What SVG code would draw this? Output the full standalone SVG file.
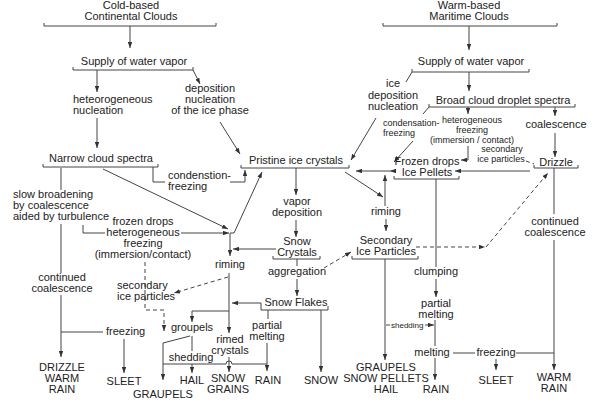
<svg xmlns="http://www.w3.org/2000/svg" width="596" height="412" viewBox="0 0 596 412">
<defs>
<marker id="ah" viewBox="0 0 8 6" refX="8" refY="3" markerWidth="6" markerHeight="4.5" orient="auto" markerUnits="userSpaceOnUse"><path d="M0,0 L8,3 L0,6 z" fill="#333"/></marker>
</defs>
<style>
text{font-family:"Liberation Sans",Arial,sans-serif;font-size:11px;fill:#222}
.m{text-anchor:middle}
.s9{font-size:9px}
.s8{font-size:8px}
.br,.c{fill:none;stroke:#444;stroke-width:1}
.a{marker-end:url(#ah)}
.d{stroke-dasharray:4 3}
</style>
<rect width="596" height="412" fill="#fff"/>

<g id="connectors">
<path class="c a" d="M130,26 V48"/>
<path class="c a" d="M97,70 V92"/>
<path class="c a" d="M193,70 L200,84"/>
<path class="c a" d="M97,118 V148"/>
<path class="c a" d="M220,122 L240,154"/>
<path class="c" d="M153,167 V182 H165"/>
<path class="c a" d="M230,182 H245 V170"/>
<path class="c" d="M61,168 V190"/>
<path class="c" d="M61,224 V273"/>
<path class="c a" d="M61,295 V357"/>
<path class="c" d="M61,332 H103"/>
<path class="c a" d="M124,339 V373"/>
<path class="c a" d="M103,169 L228,229"/>
<path class="c" d="M83,225 V233 H105"/>
<path class="c a" d="M181,233 H229"/>
<path class="c a" d="M230,233 H234 L262,172"/>
<path class="c a" d="M230,233 V256"/>
<path class="c a" d="M276,249 H233"/>
<path class="c a" d="M229,273 V333"/>
<path class="c a" d="M229,357 V372"/>
<path class="c a" d="M229,311 H192 V322"/>
<path class="c a" d="M261,303 H232"/>
<path class="c d a" d="M228,277 L174,293"/>
<path class="c d a" d="M145,262 V310 H164 V331"/>
<path class="c a" d="M190,336 L163,343 V380"/>
<path class="c" d="M192,336 V351"/>
<path class="c a" d="M192,364 V373"/>
<path class="c" d="M163,364 H226 A3,3 0 0 1 232,364 H267"/>
<path class="c" d="M268,310 V319"/>
<path class="c a" d="M267,343 V371"/>
<path class="c a" d="M321,310 V372"/>
<path class="c a" d="M296,168 V195"/>
<path class="c a" d="M296,220 V237"/>
<path class="c" d="M297,259 V266"/>
<path class="c a" d="M297,279 V296"/>
<path class="c d a" d="M324,268 L351,252"/>

<path class="c a" d="M469,26 V50"/>
<path class="c a" d="M469,72 V91"/>
<path class="c" d="M412,72 L406,82"/>
<path class="c a" d="M376,118 L351,160"/>
<path class="c" d="M429,107 L423,114"/>
<path class="c a" d="M413,141 L394,162"/>
<path class="c a" d="M468,107 V114"/>
<path class="c a" d="M468,146 V160 H461"/>
<path class="c a" d="M555,107 V116"/>
<path class="c a" d="M555,133 V157"/>
<path class="c d" d="M526,161 L534,164"/>
<path class="c a" d="M530,171 H455"/>
<path class="c a" d="M394,171 H390"/>
<path class="c a" d="M390,171 H356"/>
<path class="c a" d="M385,206 V175"/>
<path class="c a" d="M345,172 L383,197"/>
<path class="c a" d="M386,219 V231"/>
<path class="c d a" d="M416,247 H485"/>
<path class="c d a" d="M486,247 L548,173"/>
<path class="c a" d="M385,259 V360"/>
<path class="c" d="M386,325 H390"/>
<path class="c a" d="M425,325 H434"/>
<path class="c" d="M436,179 V267"/>
<path class="c a" d="M436,279 V297"/>
<path class="c" d="M435,320 V346"/>
<path class="c a" d="M435,358 V380"/>
<path class="c" d="M453,353 H475"/>
<path class="c" d="M516,353 H554"/>
<path class="c a" d="M496,359 V370"/>
<path class="c" d="M554,168 V214"/>
<path class="c a" d="M554,240 V370"/>
</g>

<g id="cold-clouds"><text class="m" x="131" y="9">Cold-based</text><text class="m" x="131" y="20">Continental Clouds</text><path class="br" d="M44,23 V26 H216 V23"/></g>
<g id="supply-left"><text class="m" x="134" y="65">Supply of water vapor</text><path class="br" d="M73,67 V70 H193 V67"/></g>
<g id="het-nucleation"><text x="73" y="103">heteorogeneous</text><text x="73" y="114">nucleation</text></g>
<g id="dep-nucleation"><text class="m" x="210" y="92">deposition</text><text class="m" x="210" y="103">nucleation</text><text class="m" x="210" y="114">of the ice phase</text></g>
<g id="narrow"><text class="m" x="101" y="162">Narrow cloud spectra</text><path class="br" d="M43,164 V167 H158 V164"/></g>
<g id="condenstion"><text x="168" y="179">condenstion-</text><text x="168" y="190">freezing</text></g>
<g id="pristine"><text class="m" x="296" y="164">Pristine ice crystals</text><path class="br" d="M241,165 V168 H349 V165"/></g>
<g id="slow-broadening"><text x="13" y="198">slow broadening</text><text x="13" y="209">by coalescence</text><text x="13" y="220">aided by turbulence</text></g>
<g id="frozen-drops-left"><text class="m" x="143" y="225">frozen drops</text><text class="m" x="143" y="236">heterogeneous</text><text class="m" x="143" y="247">freezing</text><text class="m" x="143" y="258">(immersion/contact)</text></g>
<g id="continued-left"><text class="m" x="62" y="281">continued</text><text class="m" x="62" y="292">coalescence</text></g>
<g id="freezing-left"><text x="106" y="335">freezing</text></g>
<g id="drizzle-warm-rain"><text class="m" x="62" y="371">DRIZZLE</text><text class="m" x="62" y="382">WARM</text><text class="m" x="62" y="393">RAIN</text></g>
<g id="sleet-left"><text class="m" x="124" y="385">SLEET</text></g>
<g id="vapor-deposition"><text class="m" x="297" y="205">vapor</text><text class="m" x="297" y="216">deposition</text></g>
<g id="snow-crystals"><text class="m" x="297" y="245">Snow</text><text class="m" x="297" y="256">Crystals</text><path class="br" d="M273,256 V259 H320 V256"/></g>
<g id="riming-left"><text class="m" x="230" y="268">riming</text></g>
<g id="aggregation"><text class="m" x="297" y="275">aggregation</text></g>
<g id="secondary-left"><text x="117" y="289">secondary</text><text x="117" y="300">ice particles</text></g>
<g id="snow-flakes"><text class="m" x="296" y="306">Snow Flakes</text><path class="br" d="M261,303 V310 H328 V306"/></g>
<g id="groupels"><text class="m" x="192" y="331">groupels</text></g>
<g id="rimed-crystals"><text class="m" x="230" y="343">rimed</text><text class="m" x="230" y="354">crystals</text></g>
<g id="partial-melting-left"><text class="m" x="267" y="329">partial</text><text class="m" x="267" y="340">melting</text></g>
<g id="shedding-left"><text class="m" x="191" y="361">shedding</text></g>
<g id="graupels-left"><text class="m" x="163" y="398">GRAUPELS</text></g>
<g id="hail-left"><text class="m" x="192" y="384">HAIL</text></g>
<g id="snow-grains"><text class="m" x="228" y="382">SNOW</text><text class="m" x="228" y="393">GRAINS</text></g>
<g id="rain-left"><text class="m" x="268" y="384">RAIN</text></g>
<g id="snow"><text class="m" x="321" y="384">SNOW</text></g>

<g id="warm-clouds"><text class="m" x="469" y="9">Warm-based</text><text class="m" x="469" y="20">Maritime Clouds</text><path class="br" d="M383,23 V26 H557 V23"/></g>
<g id="supply-right"><text class="m" x="471" y="65">Supply of water vapor</text><path class="br" d="M412,69 V72 H529 V69"/></g>
<g id="ice-dep-nucleation"><text class="m" x="393" y="87">ice</text><text class="m" x="393" y="99">deposition</text><text class="m" x="393" y="110">nucleation</text></g>
<g id="broad"><text class="m" x="503" y="104">Broad cloud droplet spectra</text><path class="br" d="M429,104 V107 H575 V104"/></g>
<g id="condensation-right"><text class="s9" x="383" y="126">condensation-</text><text class="s9" x="383" y="136">freezing</text></g>
<g id="het-freezing-right"><text class="m s9" x="472" y="123">heterogeneous</text><text class="m s9" x="472" y="133">freezing</text><text class="m s9" x="472" y="143">(immersion / contact)</text></g>
<g id="coalescence-right"><text class="m" x="556" y="128">coalescence</text></g>
<g id="secondary-right"><text class="m s9" x="502" y="152">secondary</text><text class="m s9" x="501" y="162">ice particles</text></g>
<g id="drizzle"><text class="m" x="556" y="166">Drizzle</text><path class="br" d="M534,165 V168 H578 V165"/></g>
<g id="frozen-drops-right"><text class="m" x="427" y="165">Frozen drops</text><text class="m" x="427" y="176">Ice Pellets</text><path class="br" d="M394,176 V179 H459 V176"/></g>
<g id="riming-right"><text class="m" x="386" y="215">riming</text></g>
<g id="secondary-ice-particles"><text class="m" x="386" y="244">Secondary</text><text class="m" x="386" y="255">Ice Particles</text><path class="br" d="M352,256 V259 H418 V256"/></g>
<g id="continued-right"><text class="m" x="555" y="225">continued</text><text class="m" x="555" y="236">coalescence</text></g>
<g id="clumping"><text class="m" x="436" y="275">clumping</text></g>
<g id="partial-melting-right"><text class="m" x="436" y="307">partial</text><text class="m" x="436" y="318">melting</text></g>
<g id="shedding-right"><text class="s8" x="391" y="328">shedding</text></g>
<g id="melting"><text class="m" x="432" y="356">melting</text></g>
<g id="freezing-right"><text class="m" x="496" y="356">freezing</text></g>
<g id="graupels-right"><text class="m" x="386" y="371">GRAUPELS</text><text class="m" x="386" y="382">SNOW PELLETS</text><text class="m" x="386" y="393">HAIL</text></g>
<g id="rain-right"><text class="m" x="436" y="393">RAIN</text></g>
<g id="sleet-right"><text class="m" x="496" y="384">SLEET</text></g>
<g id="warm-rain"><text class="m" x="554" y="381">WARM</text><text class="m" x="554" y="392">RAIN</text></g>
</svg>
